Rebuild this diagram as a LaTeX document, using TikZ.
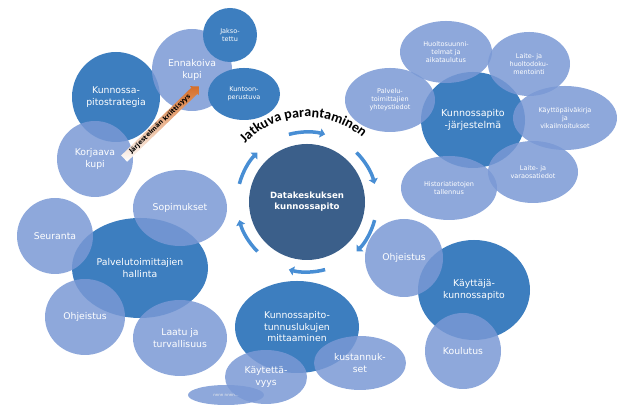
\documentclass[tikz,border=0pt]{standalone}
\usepackage{fontspec}
\setmainfont{DejaVu Sans}
\newfontfamily\titlefont{Carlito}
\usetikzlibrary{shapes.geometric,shapes.arrows,decorations.text,arrows.meta}
\definecolor{dkb}{RGB}{61,126,191}
\definecolor{ltb}{RGB}{122,153,213}
\definecolor{navy}{RGB}{59,95,138}
\definecolor{ringc}{RGB}{72,142,212}
\definecolor{orng}{RGB}{214,110,40}
\begin{document}
\begin{tikzpicture}[x=1pt,y=1pt,
  base/.style={ellipse,inner sep=0pt,align=center,text=white},
  dark/.style={base,fill=dkb,font=\fontsize{9.3}{11.5}\selectfont},
  light/.style={base,fill=ltb,fill opacity=0.85,text opacity=1,font=\fontsize{9.3}{11.5}\selectfont},
  small/.style={font=\fontsize{6.5}{8}\selectfont},
  sz/.style 2 args={minimum width=#1pt,minimum height=#2pt},
  ringarrow/.style={draw=ringc,line width=3.5pt,-{Triangle[length=5pt,width=9pt]}}
]
\useasboundingbox (0,0) rectangle (640,419);

% ---- top-left group
\node[dark,sz={88}{90}] (strat) at (116,322) {Kunnossa-\\pitostrategia};
\node[light,sz={80}{82}] (ennak) at (192,349) {Ennakoiva\\kupi};
\node[dark,small,sz={54}{54}] (jakso) at (230,384) {Jakso-\\tettu};
\node[dark,small,sz={72}{52}] (kunto) at (244,325) {Kuntoon-\\perustuva};
\node[light,sz={76}{76}] (korj) at (95,260) {Korjaava\\kupi};
\node[single arrow,rotate=44,minimum height=104pt,minimum width=12pt,
      single arrow head extend=2pt,inner sep=1pt,top color=orng,bottom color=white,
      draw=none,text=black,font=\bfseries\fontsize{6.3}{7}\selectfont] (krit) at (160,295) {Järjestelmän kriittisyys};

% ---- top-right group
\node[dark,sz={104}{96},font=\fontsize{9.5}{12}\selectfont] (kpj) at (473,299) {Kunnossapito\\-järjestelmä};
\node[light,small,sz={92}{62}] (huolto) at (446,367) {Huoltosuunni-\\telmat ja\\aikataulutus};
\node[light,small,sz={82}{64}] (laitedok) at (529,355) {Laite- ja\\huoltodoku-\\mentointi};
\node[light,small,sz={90}{64}] (palvyht) at (390,319) {Palvelu-\\toimittajien\\yhteystiedot};
\node[light,small,sz={104}{64}] (kaytto) at (565,301) {Käyttöpäiväkirja\\ja\\vikailmoitukset};
\node[light,small,sz={90}{62}] (laitevara) at (533,247) {Laite- ja\\varaosatiedot};
\node[light,small,sz={96}{64}] (hist) at (449,231) {Historiatietojen\\tallennus};

% ---- centre
\node[circle,fill=navy,minimum size=116pt,inner sep=0pt,align=center,text=white,
      font=\bfseries\fontsize{8.6}{11}\selectfont] (dc) at (307,217) {Datakeskuksen\\kunnossapito};
\foreach \c in {90,30,-30,-90,-150,150}{
  \draw[ringarrow] ([shift={(\c+15:70)}]dc.center) arc[start angle=\c+15,end angle=\c-15,radius=70];
}
\path[decorate,decoration={text along path,text align=center,
      text={|\titlefont\bfseries\fontsize{14}{16}\selectfont|Jatkuva parantaminen}}]
  ([shift={(146:85)}]dc.center) arc[start angle=146,end angle=40,radius=85];

% ---- left group
\node[dark,sz={136}{100}] (palvh) at (140,151) {Palvelutoimittajien\\hallinta};
\node[light,sz={94}{76}] (sopim) at (180,211) {Sopimukset};
\node[light,sz={76}{76}] (seur) at (55,183) {Seuranta};
\node[light,sz={80}{76}] (ohj1) at (85,102) {Ohjeistus};
\node[light,sz={94}{76}] (laatu) at (180,81) {Laatu ja\\turvallisuus};

% ---- bottom group
\node[dark,sz={124}{92}] (tunnus) at (297,92) {Kunnossapito-\\tunnuslukujen\\mittaaminen};
\node[light,sz={82}{54}] (kaytet) at (266,42) {Käytettä-\\vyys};
\node[light,sz={76}{20},font=\fontsize{4}{5}\selectfont,text=white!85!gray] (tiny) at (226,24) {nnnn nnnn...};
\node[light,sz={92}{54}] (kust) at (360,56) {kustannuk-\\set};

% ---- right group
\node[dark,sz={112}{100}] (kaytkp) at (474,129) {Käyttäjä-\\kunnossapito};
\node[light,sz={78}{78}] (ohj2) at (404,161) {Ohjeistus};
\node[light,sz={76}{76}] (koul) at (463,68) {Koulutus};
\end{tikzpicture}
\end{document}
